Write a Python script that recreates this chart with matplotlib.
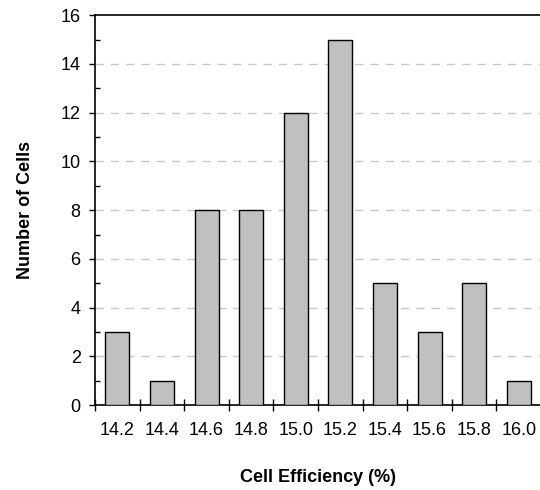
import numpy as np
import matplotlib
matplotlib.use('Agg')
import matplotlib.pyplot as plt
from matplotlib.ticker import FixedLocator, NullFormatter, FixedFormatter, MultipleLocator

efficiency = ['14.2', '14.4', '14.6', '14.8', '15.0', '15.2', '15.4', '15.6', '15.8', '16.0']
cell_counts = [3, 1, 8, 8, 12, 15, 5, 3, 5, 1]

plt.rcParams['font.family'] = ['Liberation Sans', 'DejaVu Sans']

fig = plt.figure(figsize=(5.4, 4.9), dpi=100)
ax = fig.add_axes([0.176, 0.173, 0.826, 0.796])

pos = np.arange(len(efficiency))
ax.bar(pos, cell_counts, width=0.54, color='#c0c0c0', edgecolor='black',
       linewidth=1.0, zorder=3)

ax.set_xlim(-0.5, len(efficiency) - 0.5)
ax.set_ylim(0, 16)

# category boundaries get the tick marks, centres get the labels
ax.xaxis.set_major_locator(FixedLocator(np.arange(len(efficiency) + 1) - 0.5))
ax.xaxis.set_major_formatter(NullFormatter())
ax.xaxis.set_minor_locator(FixedLocator(pos))
ax.xaxis.set_minor_formatter(FixedFormatter(efficiency))
ax.tick_params(axis='x', which='major', direction='inout', length=8.6, width=1.0)
ax.tick_params(axis='x', which='minor', length=0, pad=12, labelsize=13)

ax.yaxis.set_major_locator(MultipleLocator(2))
ax.yaxis.set_minor_locator(MultipleLocator(1))
ax.tick_params(axis='y', which='major', direction='out', length=4.3, width=1.0,
               pad=6, labelsize=13)
ax.tick_params(axis='y', which='minor', direction='in', length=3.6, width=1.0)

for y in range(2, 16, 2):
    ax.axhline(y, color='#c8c8c8', linewidth=1.0, linestyle=(0, (6, 5)), zorder=1)

ax.spines['right'].set_visible(False)
for s in ['left', 'bottom', 'top']:
    ax.spines[s].set_linewidth(1.2)

ax.set_xlabel('Cell Efficiency (%)', fontsize=13, fontweight='bold', labelpad=22)
ax.set_ylabel('Number of Cells', fontsize=13, fontweight='bold', labelpad=19)

plt.savefig('out.png', dpi=100)
